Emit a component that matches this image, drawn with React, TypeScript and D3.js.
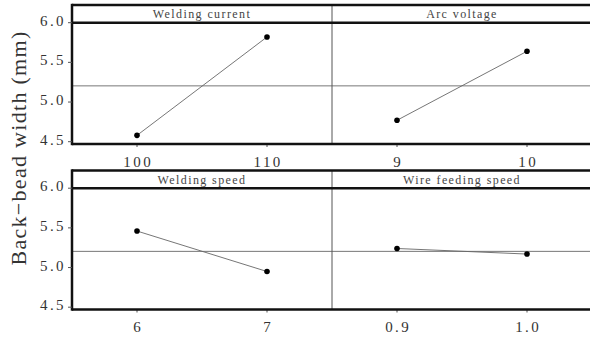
import React, { useEffect, useRef } from "react";
import * as d3 from "d3";

const factors = ["Welding current", "Arc voltage", "Welding speed", "Wire feeding speed"];
const levels = [["100", "110"], ["9", "10"], ["6", "7"], ["0.9", "1.0"]];
const means = [[4.58, 5.82], [4.77, 5.64], [5.46, 4.95], [5.24, 5.17]];
const yTicks = [4.5, 5.0, 5.5, 6.0];

const width = 590;
const height = 341;
const left = 72;
const panelW = 260;
const rowTops = [5, 170.5];
const font = "'Liberation Serif', 'DejaVu Serif', serif";

const App = () => {
  const ref = useRef<SVGSVGElement>(null);

  useEffect(() => {
    const svg = d3.select(ref.current);
    svg.selectAll("*").remove();

    const grand = d3.mean(means.flat()) as number;

    rowTops.forEach((top, r) => {
      const g = svg.append("g").attr("transform", `translate(0,${top})`);
      const y = d3.scaleLinear().domain([4.5, 6]).range([136.7, 17.7]);
      const axisY = 139;

      // mean reference line
      g.append("line")
        .attr("x1", left).attr("x2", width + 2)
        .attr("y1", y(grand)).attr("y2", y(grand))
        .attr("stroke", "#777").attr("stroke-width", 1);

      [0, 1].forEach(c => {
        const k = r * 2 + c;
        const x0 = left + c * panelW;
        const x = d3.scalePoint<string>().domain(levels[k]).range([x0, x0 + panelW]).padding(0.5);

        g.append("text")
          .attr("x", x0 + panelW / 2).attr("y", 13)
          .attr("text-anchor", "middle")
          .attr("font-family", font).attr("font-size", 12)
          .attr("letter-spacing", 1.4)
          .attr("fill", "#444")
          .text(factors[k]);

        const pts = levels[k].map((l, i) => [x(l) as number, y(means[k][i])] as [number, number]);
        g.append("path")
          .attr("d", d3.line()(pts))
          .attr("fill", "none").attr("stroke", "#666").attr("stroke-width", 0.9);
        g.selectAll(null).data(pts).join("circle")
          .attr("cx", d => d[0]).attr("cy", d => d[1]).attr("r", 2.8).attr("fill", "#000");

        levels[k].forEach(l => {
          g.append("line")
            .attr("x1", x(l) as number).attr("x2", x(l) as number)
            .attr("y1", axisY).attr("y2", axisY + 3)
            .attr("stroke", "#555").attr("stroke-width", 1);
          g.append("text")
            .attr("x", (x(l) as number) + 1.2).attr("y", axisY + 22.5)
            .attr("text-anchor", "middle")
            .attr("font-family", font).attr("font-size", 15)
            .attr("letter-spacing", 2.4)
            .attr("fill", "#333")
            .text(l);
        });
      });

      // divider between panels
      g.append("line")
        .attr("x1", left + panelW).attr("x2", left + panelW)
        .attr("y1", 0).attr("y2", axisY)
        .attr("stroke", "#555").attr("stroke-width", 1);

      // frame lines
      [0, y(6), axisY].forEach(yy => {
        g.append("line")
          .attr("x1", left).attr("x2", width + 2)
          .attr("y1", yy).attr("y2", yy)
          .attr("stroke", "#111").attr("stroke-width", 2.5);
      });
      g.append("line")
        .attr("x1", left).attr("x2", left)
        .attr("y1", -1.2).attr("y2", axisY + 1.2)
        .attr("stroke", "#111").attr("stroke-width", 2.5);

      yTicks.forEach(t => {
        g.append("line")
          .attr("x1", left - 4).attr("x2", left)
          .attr("y1", y(t)).attr("y2", y(t))
          .attr("stroke", "#555").attr("stroke-width", 1);
        g.append("text")
          .attr("x", left - 6).attr("y", y(t))
          .attr("dy", "0.2em")
          .attr("text-anchor", "end")
          .attr("font-family", font).attr("font-size", 15)
          .attr("letter-spacing", 2.4)
          .attr("fill", "#333")
          .text(d3.format(".1f")(t));
      });
    });

    svg.append("text")
      .attr("transform", "translate(26,148) rotate(-90)")
      .attr("text-anchor", "middle")
      .attr("font-family", font).attr("font-size", 22)
      .attr("letter-spacing", 1.3)
      .attr("fill", "#333")
      .text("Back\u2212bead width (mm)");
  }, []);

  return (
    <svg
      ref={ref}
      width={width}
      height={height}
      viewBox={`0 0 ${width} ${height}`}
      style={{ position: "absolute", left: 0, top: 0, background: "#fff" }}
    ></svg>
  );
};

export default App;
